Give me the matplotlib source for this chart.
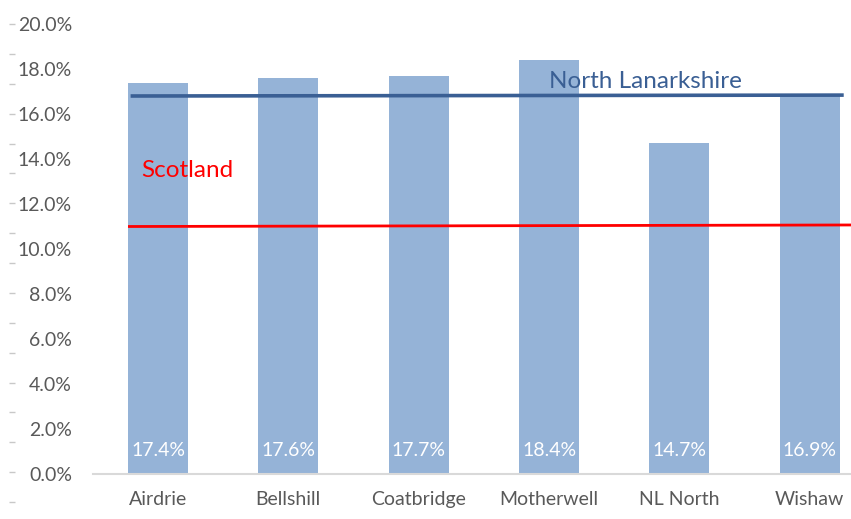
import matplotlib
matplotlib.use("Agg")
import matplotlib.pyplot as plt
import numpy as np
from matplotlib.ticker import FuncFormatter, MultipleLocator

categories = ["Airdrie", "Bellshill", "Coatbridge", "Motherwell", "NL North", "Wishaw"]
values = [17.4, 17.6, 17.7, 18.4, 14.7, 16.9]
value_labels = ["17.4%", "17.6%", "17.7%", "18.4%", "14.7%", "16.9%"]
nl_line = [16.80, 16.84]        # North Lanarkshire reference line (start, end)
scot_line = [11.00, 11.07]      # Scotland reference line (start, end)
yticks = [0, 2, 4, 6, 8, 10, 12, 14, 16, 18, 20]

FONT = ["Lato", "DejaVu Sans"]
plt.rcParams["font.family"] = FONT

W, H = 851, 519
fig = plt.figure(figsize=(W / 100, H / 100), dpi=100)
left_px, right_px, top_px, bot_px = 92.8, 875.0, 24.0, 474.0
ax = fig.add_axes([left_px / W, 1 - bot_px / H, (right_px - left_px) / W, (bot_px - top_px) / H])

x = np.arange(len(categories))
bar_color = "#95B3D7"
ax.bar(x, values, width=0.46, color=bar_color, zorder=2)

for xi, lab in zip(x, value_labels):
    ax.annotate(lab, (xi, 0), xytext=(0, 10.5), textcoords="offset points",
                ha="center", va="bottom", color="white", fontsize=14, zorder=5)

ax.plot([-0.21, 5.26], nl_line, color="#3A5F94", lw=2.6, zorder=3, solid_capstyle="butt")
ax.plot([-0.23, 5.5], scot_line, color="#FF0000", lw=2.0, zorder=3, solid_capstyle="butt")

ax.text(3.0, 17.15, "North Lanarkshire", color="#3A5F94", fontsize=17.5, ha="left", va="baseline", zorder=4)
ax.text(-0.13, 13.2, "Scotland", color="#FF0000", fontsize=17.5, ha="left", va="baseline", zorder=4)

ax.set_xlim(-0.5, 5.5)
ax.set_ylim(0, 20)
ax.set_yticks(yticks)
ax.yaxis.set_major_formatter(FuncFormatter(lambda v, p: f"{v:.1f}%"))
ax.set_xticks(x)
ax.set_xticklabels(categories)
ax.tick_params(axis="y", length=0, pad=15, labelsize=14, labelcolor="#595959")
ax.tick_params(axis="x", length=0, pad=12.5, labelsize=14, labelcolor="#595959")
for s in ["top", "right", "left"]:
    ax.spines[s].set_visible(False)
ax.spines["bottom"].set_color("#D9D9D9")
ax.spines["bottom"].set_linewidth(1.5)

# secondary tick strip at far left
tax = fig.add_axes([15 / W, 1 - 502 / H, 0.001, (502 - 24) / H])
tax.set_ylim(0, 16)
tax.yaxis.set_major_locator(MultipleLocator(1))
tax.tick_params(axis="y", length=4, color="#C8C8C8", width=1, labelleft=False)
tax.set_xticks([])
for s in tax.spines.values():
    s.set_visible(False)
tax.patch.set_visible(False)

fig.savefig("out.png", dpi=100)
